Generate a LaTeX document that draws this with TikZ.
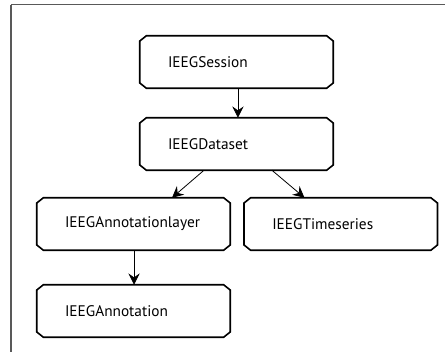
\documentclass[tikz,border=0pt]{standalone}
\usepackage{fontspec}
\setmainfont{PT Sans}
\usetikzlibrary{arrows.meta}
\tikzset{
  cls/.style={rectangle, inner sep=0pt, minimum width=144.75pt, minimum height=39pt,
    text width=102.75pt, align=left, font=\fontsize{11.5}{13}\selectfont},
  link/.style={-{Stealth[length=8.5pt,width=8.5pt,inset=3pt]}, line width=0.6pt},
  chamf/.style={line width=1.2pt, line join=miter}
}
\newcommand{\chamfbox}[1]{%
  \draw[chamf] ([xshift=5pt]#1.north west) -- ([xshift=-5pt]#1.north east)
    -- ([yshift=-4pt]#1.north east) -- ([yshift=4pt]#1.south east)
    -- ([xshift=-5pt]#1.south east) -- ([xshift=5pt]#1.south west)
    -- ([yshift=4pt]#1.south west) -- ([yshift=-4pt]#1.north west) -- cycle;}
\begin{document}
\begin{tikzpicture}[x=0.75pt,y=-0.75pt]
\useasboundingbox (0,0) rectangle (445,352);
\draw[line width=0.8pt, draw=black!65] (11,4.7) -- (450,4.7);
\draw[line width=0.8pt, draw=black!65] (11,4.7) -- (11,360);
\node[cls] (ses) at (236.5,62) {IEEGSession};
\node[cls] (ds) at (236.5,144) {IEEGDataset};
\node[cls] (al) at (133.5,224) {IEEGAnnotationlayer};
\node[cls] (ts) at (340.75,224) {IEEGTimeseries};
\node[cls] (an) at (133.5,311) {IEEGAnnotation};
\foreach \n in {ses,ds,al,ts,an} {\chamfbox{\n}}
\draw[link] ([xshift=1.1pt]ses.south) -- ([xshift=1.1pt]ds.north);
\draw[link] ([xshift=-24.4pt]ds.south) -- ([xshift=28.9pt]al.north);
\draw[link] ([xshift=26.6pt]ds.south) -- ([xshift=-27.2pt]ts.north);
\draw[link] ([xshift=0.4pt]al.south) -- ([xshift=0.4pt]an.north);
\end{tikzpicture}
\end{document}
